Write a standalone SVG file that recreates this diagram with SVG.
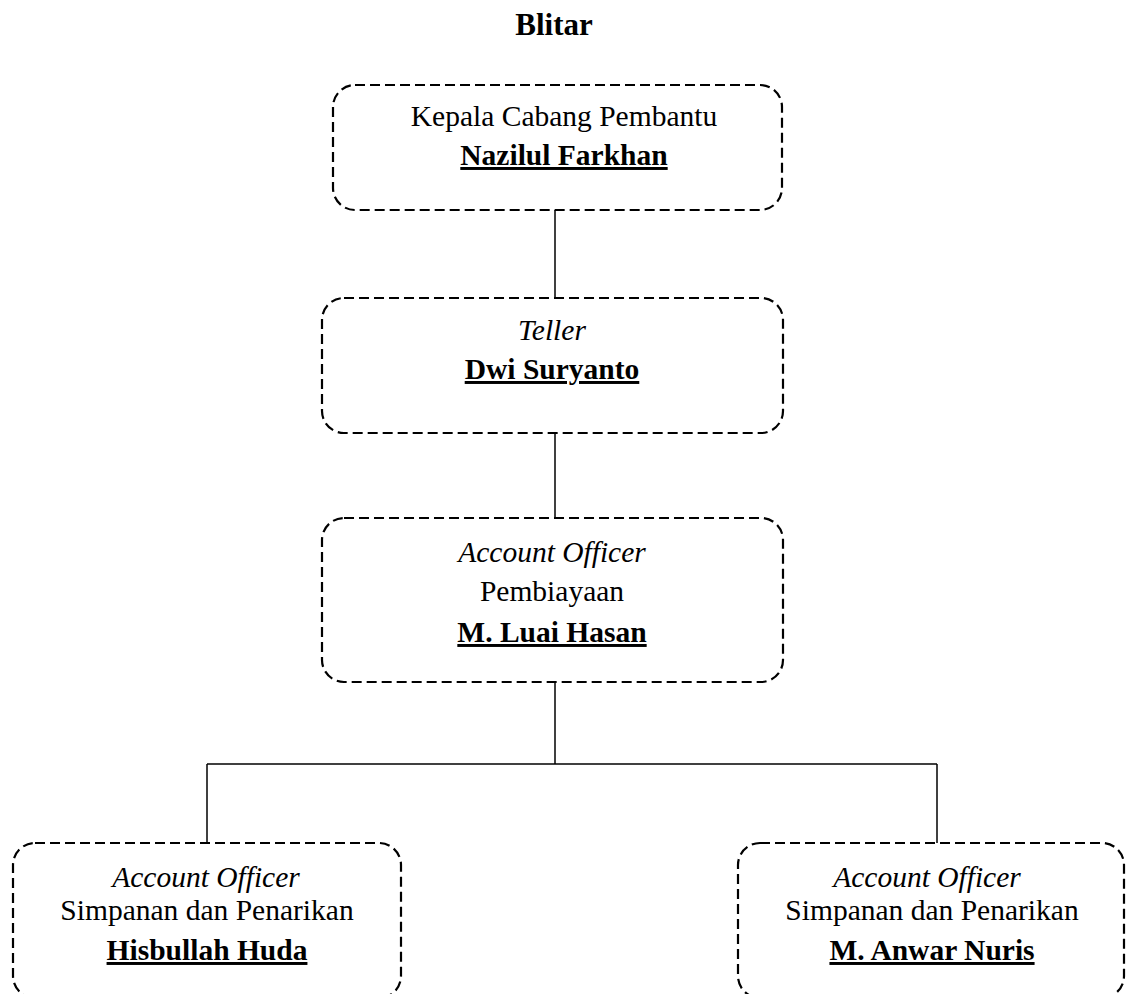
<svg xmlns="http://www.w3.org/2000/svg" width="1126" height="994" viewBox="0 0 1126 994">
<style>
.box{fill:none;stroke:#000;stroke-width:2.2;stroke-dasharray:10 5}
.t{font-family:"Liberation Serif","Times New Roman",serif;font-size:29.5px;fill:#000;text-anchor:middle}
.i{font-style:italic}
.b{font-weight:bold}
.u{text-decoration:underline}
.c{stroke:#000;stroke-width:1.5;fill:none}
</style>
<rect width="1126" height="994" fill="#fff"/>
<text class="t b" x="554" y="35" style="font-size:31px">Blitar</text>
<g id="connectors">
<line class="c" x1="555" y1="210" x2="555" y2="298"/>
<line class="c" x1="555" y1="433" x2="555" y2="518"/>
<line class="c" x1="555" y1="682" x2="555" y2="764"/>
<line class="c" x1="207" y1="764" x2="937" y2="764"/>
<line class="c" x1="207" y1="764" x2="207" y2="843"/>
<line class="c" x1="937" y1="764" x2="937" y2="843"/>
</g>
<g id="node-kepala">
<rect class="box" x="333" y="85" width="449" height="125" rx="22"/>
<text class="t" x="564" y="126">Kepala Cabang Pembantu</text>
<text class="t b u" x="564" y="165">Nazilul Farkhan</text>
</g>
<g id="node-teller">
<rect class="box" x="322" y="298" width="461" height="135" rx="22"/>
<text class="t i" x="552" y="340">Teller</text>
<text class="t b u" x="552" y="379">Dwi Suryanto</text>
</g>
<g id="node-ao-pembiayaan">
<rect class="box" x="322" y="518" width="461" height="164" rx="22"/>
<text class="t i" x="552" y="562">Account Officer</text>
<text class="t" x="552" y="601">Pembiayaan</text>
<text class="t b u" x="552" y="642">M. Luai Hasan</text>
</g>
<g id="node-ao-hisbullah">
<rect class="box" x="13" y="843" width="388" height="155" rx="22"/>
<text class="t i" x="206" y="887">Account Officer</text>
<text class="t" x="207" y="920">Simpanan dan Penarikan</text>
<text class="t b u" x="207" y="960">Hisbullah Huda</text>
</g>
<g id="node-ao-anwar">
<rect class="box" x="738" y="843" width="386" height="155" rx="22"/>
<text class="t i" x="927" y="887">Account Officer</text>
<text class="t" x="932" y="920">Simpanan dan Penarikan</text>
<text class="t b u" x="932" y="960">M. Anwar Nuris</text>
</g>
</svg>
